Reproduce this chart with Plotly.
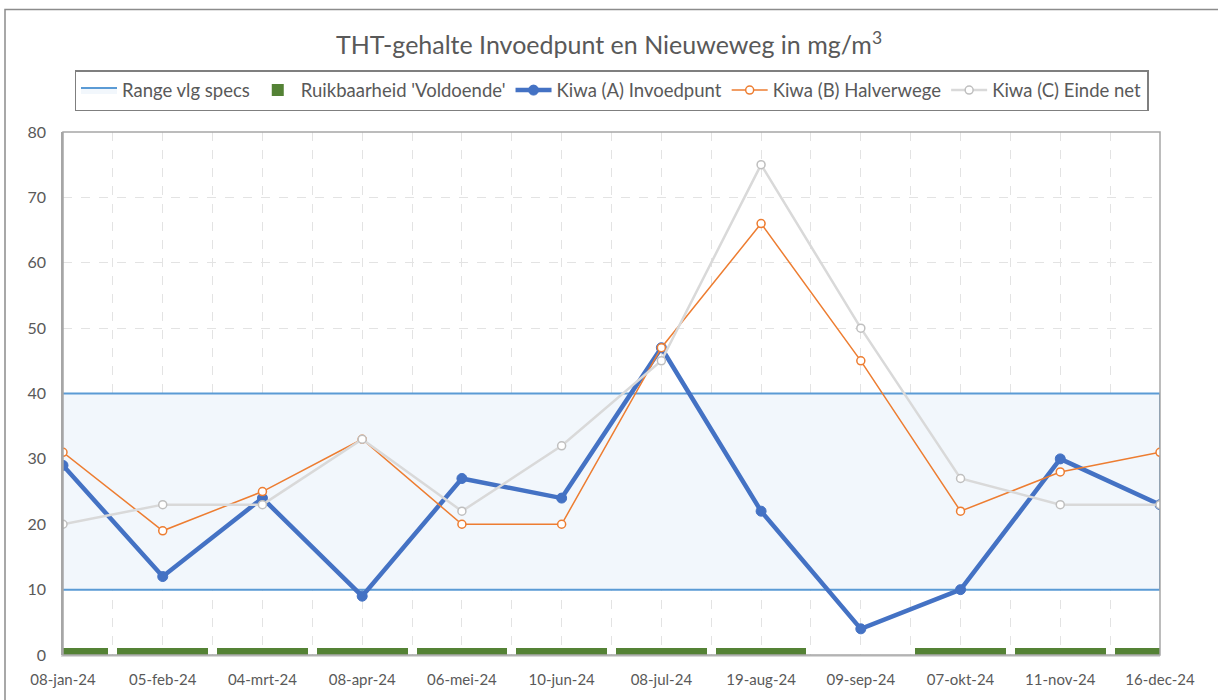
import plotly.graph_objects as go

categories = ["08-jan-24", "05-feb-24", "04-mrt-24", "08-apr-24", "06-mei-24", "10-jun-24",
              "08-jul-24", "19-aug-24", "09-sep-24", "07-okt-24", "11-nov-24", "16-dec-24"]
kiwa_a = [29, 12, 24, 9, 27, 24, 47, 22, 4, 10, 30, 23]
kiwa_b = [31, 19, 25, 33, 20, 20, 47, 66, 45, 22, 28, 31]
kiwa_c = [20, 23, 23, 33, 22, 32, 45, 75, 50, 27, 23, 23]
ruik_voldoende = [1, 1, 1, 1, 1, 1, 1, 1, 0, 1, 1, 1]
spec_low = [10] * 12
spec_high = [40] * 12
y_ticks = [0, 10, 20, 30, 40, 50, 60, 70, 80]

idx = list(range(len(categories)))
FONT = "Lato"
TXT = "#595959"

fig = go.Figure()

# Range band (polygon between low and high)
fig.add_trace(go.Scatter(
    x=idx + idx[::-1], y=spec_high + spec_low[::-1],
    fill="toself", fillcolor="#F2F7FC", mode="lines",
    line=dict(color="#5B9BD5", width=2),
    name="Range vlg specs", hoverinfo="skip"))

fig.add_trace(go.Bar(
    x=idx, y=ruik_voldoende, width=0.91, marker=dict(color="#548235", line=dict(width=0)),
    name="Ruikbaarheid 'Voldoende'"))

fig.add_trace(go.Scatter(
    x=idx, y=kiwa_a, mode="lines+markers", name="Kiwa (A) Invoedpunt",
    line=dict(color="#4472C4", width=4.5),
    marker=dict(color="#4472C4", size=10, line=dict(color="#4472C4", width=1))))

fig.add_trace(go.Scatter(
    x=idx, y=kiwa_b, mode="lines+markers", name="Kiwa (B) Halverwege",
    line=dict(color="#ED7D31", width=1.5),
    marker=dict(color="white", size=8, line=dict(color="#ED7D31", width=1.5))))

fig.add_trace(go.Scatter(
    x=idx, y=kiwa_c, mode="lines+markers", name="Kiwa (C) Einde net",
    line=dict(color="#D9D9D9", width=2.5),
    marker=dict(color="white", size=8, line=dict(color="#BFBFBF", width=1.5))))

fig.update_layout(
    width=1218, height=700,
    margin=dict(l=63, r=58, t=132, b=43),
    paper_bgcolor="white", plot_bgcolor="white",
    font=dict(family=FONT, color=TXT, size=15),
    title=dict(text="THT-gehalte Invoedpunt en Nieuweweg in mg/m<sup>3</sup>",
               x=0.5, xanchor="center", y=0.935, yanchor="middle",
               font=dict(size=25, color=TXT, family=FONT)),
    showlegend=True,
    legend=dict(orientation="h", x=0.5, xanchor="center", y=1.04, yanchor="bottom",
                bordercolor="#7F7F7F", borderwidth=1.5, font=dict(size=18.5, color=TXT),
                itemclick=False, traceorder="normal", itemwidth=36),
    bargap=0,
    xaxis=dict(range=[0, 11], tickmode="array", tickvals=idx, ticktext=categories,
               showgrid=True, gridcolor="#E3E3E3", griddash="dash", gridwidth=1,
               minor=dict(tickmode="array", tickvals=[i + 0.5 for i in idx[:-1]],
                          showgrid=True, gridcolor="#E3E3E3", griddash="dash"),
               showline=True, linecolor="#D9D9D9", linewidth=2,
               ticks="outside", ticklen=10, tickcolor="rgba(0,0,0,0)",
               tickfont=dict(size=15, color=TXT), zeroline=False),
    yaxis=dict(range=[0, 80], tickvals=y_ticks, showgrid=True, gridcolor="#E3E3E3",
               griddash="dash", showline=True, linecolor="#A6A6A6", linewidth=1.5,
               ticks="outside", ticklen=12, tickcolor="rgba(0,0,0,0)",
               tickfont=dict(size=16, color=TXT), zeroline=False),
    shapes=[
        # plot area border
        dict(type="rect", xref="paper", yref="paper", x0=0, x1=1, y0=0, y1=1,
             line=dict(color="#A6A6A6", width=1.5), layer="above"),
        # outer chart frame
        dict(type="rect", xref="paper", yref="paper",
             x0=-58/1097, x1=1.2, y0=-0.2, y1=(700 - 9 - 43)/525,
             line=dict(color="#8C8C8C", width=1.5), layer="above"),
    ],
)

fig.write_html("out.html", config={"displayModeBar": False},
               post_script="document.body.style.margin='0';document.body.style.overflow='hidden';")
